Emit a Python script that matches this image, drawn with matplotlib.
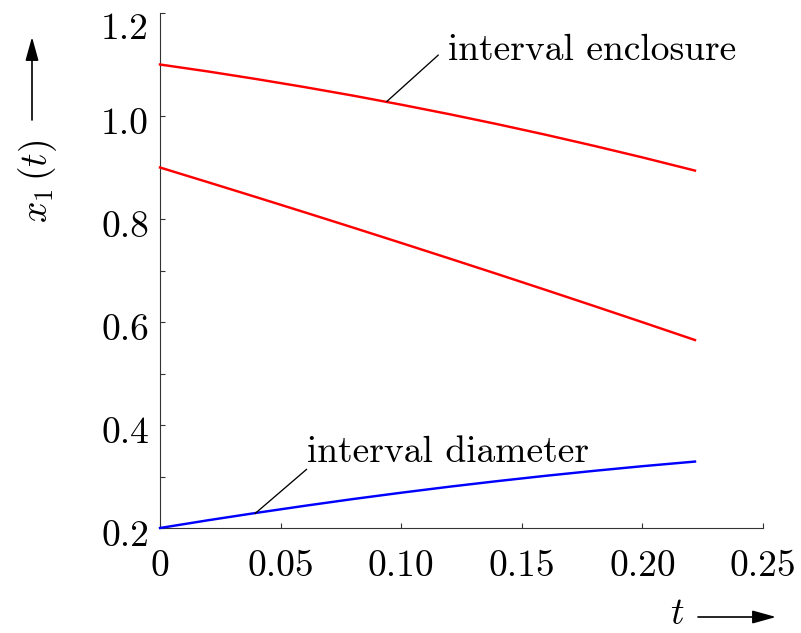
import matplotlib
matplotlib.use('Agg')
import matplotlib.pyplot as plt
from matplotlib.ticker import FixedLocator, FixedFormatter
import matplotlib.transforms as mtransforms

# ---- data ----
t = [0.0, 0.02, 0.04, 0.06, 0.08, 0.10, 0.12, 0.14, 0.16, 0.18, 0.20, 0.2218]
upper = [1.100, 1.0864, 1.0717, 1.0561, 1.0396, 1.0220, 1.0035, 0.9840,
         0.9635, 0.9420, 0.9196, 0.8940]
lower = [0.900, 0.8713, 0.8423, 0.8130, 0.7834, 0.7535, 0.7233, 0.6929,
         0.6621, 0.6310, 0.5996, 0.5650]
diameter = [0.200, 0.2151, 0.2294, 0.2431, 0.2562, 0.2685, 0.2802, 0.2911,
            0.3014, 0.3110, 0.3200, 0.3290]

x_ticks = [0.0, 0.05, 0.10, 0.15, 0.20, 0.25]
x_ticklabels = ['0', '0.05', '0.10', '0.15', '0.20', '0.25']
y_ticks = [0.2, 0.4, 0.6, 0.8, 1.0, 1.2]
y_ticklabels = ['0.2', '0.4', '0.6', '0.8', '1.0', '1.2']
y_minor = [0.3, 0.5, 0.7, 0.9, 1.1]

label_enclosure = 'interval enclosure'
label_diameter = 'interval diameter'

plt.rcParams['font.family'] = 'cmr10'
plt.rcParams['mathtext.fontset'] = 'cm'
plt.rcParams['axes.formatter.use_mathtext'] = True

FS = 27
fig = plt.figure(figsize=(8.01, 6.33), dpi=100)
ax = fig.add_axes([160 / 801, 105 / 633, 603 / 801, 515 / 633])

ax.plot(t, upper, color='#ff0000', lw=1.75, clip_on=False, zorder=3)
ax.plot(t, lower, color='#ff0000', lw=1.75, clip_on=False, zorder=3)
ax.plot(t, diameter, color='#0000ff', lw=1.75, clip_on=False, zorder=3)

ax.set_xlim(0, 0.25)
ax.set_ylim(0.2, 1.2)

for s in ['top', 'right']:
    ax.spines[s].set_visible(False)
for s in ['left', 'bottom']:
    ax.spines[s].set_linewidth(0.8)
    ax.spines[s].set_color('#333333')

ax.xaxis.set_major_locator(FixedLocator(x_ticks))
ax.xaxis.set_major_formatter(FixedFormatter(x_ticklabels))
ax.yaxis.set_major_locator(FixedLocator(y_ticks))
ax.yaxis.set_major_formatter(FixedFormatter(y_ticklabels))
ax.yaxis.set_minor_locator(FixedLocator(y_minor))

ax.tick_params(axis='both', which='both', direction='in', length=3.6,
               width=0.8, color='#333333', labelsize=FS)
ax.tick_params(axis='x', pad=16)
ax.tick_params(axis='y', pad=8)

# shift y tick labels slightly downward, top one aligned to top
offset = mtransforms.ScaledTranslation(0, -0.05, fig.dpi_scale_trans)
ylabels = ax.get_yticklabels()
for lab in ylabels[:-1]:
    lab.set_transform(lab.get_transform() + offset)
ylabels[-1].set_va('top')

# annotations
ax.annotate('', xy=(0.094, 1.028), xytext=(0.1154, 1.1184),
            arrowprops=dict(arrowstyle='-', lw=0.95, color='black',
                            shrinkA=0, shrinkB=0))
ax.text(0.1194, 1.109, label_enclosure, fontsize=FS, ha='left', va='baseline')

ax.annotate('', xy=(0.0394, 0.228), xytext=(0.0608, 0.314),
            arrowprops=dict(arrowstyle='-', lw=0.95, color='black',
                            shrinkA=0, shrinkB=0))
ax.text(0.061, 0.328, label_diameter, fontsize=FS, ha='left', va='baseline')

# axis labels with arrows
fig.text(38 / 801, 452 / 633, r'$x_1\,(t)$', rotation=90, ha='center',
         va='center', fontsize=FS)
fig.text(677 / 801, 2 / 633, r'$t$', ha='center', va='bottom', fontsize=FS)

arrow_kw = dict(arrowstyle='-|>,head_length=0.72,head_width=0.2', lw=1.2,
                color='black', shrinkA=0, shrinkB=0, mutation_scale=20)
ax.annotate('', xy=(776, 16), xytext=(698, 16), xycoords='figure pixels',
            textcoords='figure pixels', arrowprops=arrow_kw)
ax.annotate('', xy=(32, 596), xytext=(32, 513), xycoords='figure pixels',
            textcoords='figure pixels', arrowprops=arrow_kw)

fig.savefig('out.png', dpi=100)
